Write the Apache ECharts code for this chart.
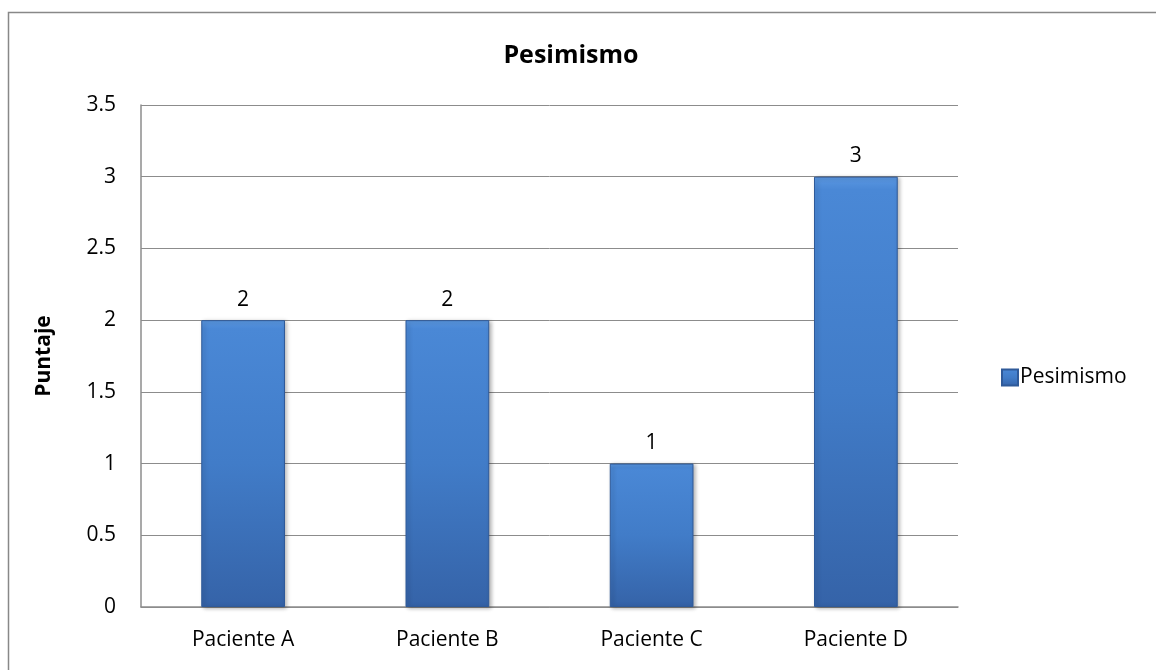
<!DOCTYPE html>
<html><head><meta charset="utf-8">
<script src="https://cdn.jsdelivr.net/npm/echarts@6/dist/echarts.min.js"></script>
<style>html,body{margin:0;padding:0;background:#fff}#c{width:1156px;height:670px}</style>
</head><body><div id="c"></div>
<script>
const categories = ['Paciente A', 'Paciente B', 'Paciente C', 'Paciente D'];
const values = [2, 2, 1, 3];
const seriesName = 'Pesimismo';
const titleText = 'Pesimismo';
const yAxisName = 'Puntaje';

const font = '"Open Sans", "Liberation Sans", sans-serif';
const barColor = {
  type: 'linear', x: 0, y: 0, x2: 0, y2: 1,
  colorStops: [
    {offset: 0, color: '#5b98e2'},
    {offset: 0.03, color: '#4a88d6'},
    {offset: 0.5, color: '#417cc8'},
    {offset: 1, color: '#3563a8'}
  ]
};
const chart = echarts.init(document.getElementById('c'));
chart.setOption({
  animation: false,
  title: {text: titleText, left: 566, top: 38, textAlign: 'center',
    textStyle: {fontFamily: font, fontWeight: 'bold', fontSize: 25, color: '#000'}},
  graphic: [{type: 'rect', shape: {x: 8.5, y: 12.5, width: 1200, height: 700},
    style: {fill: 'none', stroke: '#888', lineWidth: 1.5}, silent: true}],
  grid: {left: 141, right: 198, top: 105, bottom: 63},
  legend: {data: [{name: seriesName, icon: 'rect'}], top: 362, orient: 'vertical',
    left: 996, itemWidth: 16, itemHeight: 16, itemGap: 6,
    textStyle: {fontFamily: font, fontSize: 21, color: '#000', padding: [0, 0, 0, -3]}},
  xAxis: {type: 'category', data: categories,
    axisLine: {lineStyle: {color: '#8c8c8c', width: 1.5}},
    axisTick: {show: false},
    axisLabel: {fontFamily: font, fontSize: 21, color: '#000', margin: 23}},
  yAxis: {type: 'value', min: 0, max: 3.5, interval: 0.5,
    name: yAxisName, nameLocation: 'middle', nameGap: 86,
    nameTextStyle: {fontFamily: font, fontWeight: 'bold', fontSize: 21, color: '#000'},
    axisLine: {show: true, lineStyle: {color: '#8c8c8c', width: 1.5}},
    axisTick: {show: false},
    splitLine: {lineStyle: {color: '#8c8c8c', width: 1}},
    axisLabel: {fontFamily: font, fontSize: 21, color: '#000', margin: 25}},
  series: [{name: seriesName, type: 'bar', data: values, barWidth: '41%',
    itemStyle: {color: barColor, borderColor: '#2f5a99', borderWidth: 1,
      shadowColor: 'rgba(0,0,0,0.3)', shadowBlur: 4, shadowOffsetX: 2, shadowOffsetY: 1},
    label: {show: true, position: 'top', distance: 10, fontFamily: font, fontSize: 21, color: '#000'}}]
});
</script></body></html>
